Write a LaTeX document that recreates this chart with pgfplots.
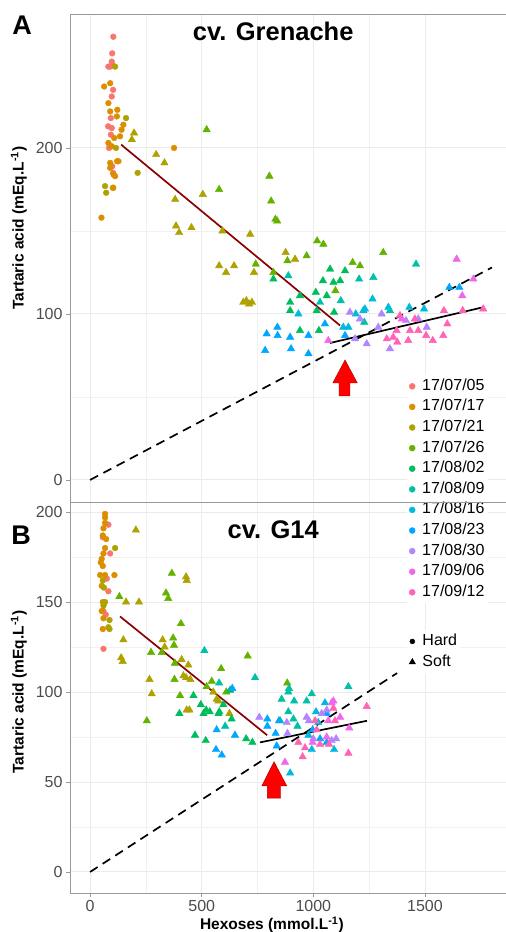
\documentclass[border=0pt]{standalone}
\usepackage{fontspec}
\setmainfont{Liberation Sans}
\usepackage{pgfplots}
\pgfplotsset{compat=1.18}
\definecolor{c1}{HTML}{F8766D}
\definecolor{c2}{HTML}{DB8E00}
\definecolor{c3}{HTML}{AEA200}
\definecolor{c4}{HTML}{64B200}
\definecolor{c5}{HTML}{00BD5C}
\definecolor{c6}{HTML}{00C1A7}
\definecolor{c7}{HTML}{00BADE}
\definecolor{c8}{HTML}{00A6FF}
\definecolor{c9}{HTML}{B385FF}
\definecolor{c10}{HTML}{EF67EB}
\definecolor{c11}{HTML}{FF63B6}
\definecolor{dred}{HTML}{8B0000}
\definecolor{gridc}{HTML}{EBEBEB}
\pgfplotsset{
 panel/.style={scale only axis, width=436pt, xmin=-90, xmax=1863,
   axis line style={draw=none},
   tick align=outside, major tick length=4pt, tick style={black!40, line width=0.8pt},
   minor tick num=1, minor tick style={draw=none},
   grid=both, major grid style={gridc, line width=0.9pt}, minor grid style={gridc!70, line width=0.5pt},
   xtick={0,500,1000,1500}, xtick pos=bottom, ytick pos=left,
   scaled ticks=false,
   /pgf/number format/1000 sep={},
   /pgf/number format/assume math mode=true,
   ticklabel style={font=\fontsize{16}{16}\selectfont, text=black!70},
   ylabel style={font=\bfseries\fontsize{15.5}{15.5}\selectfont},
   xlabel style={font=\bfseries\fontsize{15.5}{15.5}\selectfont},
   title style={font=\bfseries\fontsize{25.5}{25.5}\selectfont, anchor=center},
   legend cell align=left,
   clip=true,
 },
 hard/.style={only marks, mark=*, mark size=2.9pt, forget plot, mark options={draw=none}},
 soft/.style={only marks, mark=triangle*, mark size=4.3pt, forget plot, mark options={draw=none}},
 dred line/.style={dred, line width=1.7pt, forget plot, no marks},
 blk line/.style={black, line width=1.7pt, forget plot, no marks},
 dsh line/.style={black, line width=1.7pt, dash pattern=on 9pt off 6pt, forget plot, no marks},
 arrowsh/.style={fill=red, draw=red!65!black, line width=0.4pt, forget plot, no marks},
 mylegend/.style={draw=none, fill=white,
    font=\fontsize{16}{16}\selectfont, inner sep=2pt, row sep=2.6pt,
    nodes={text height=12pt, text depth=4pt, inner sep=1pt},
    /tikz/every odd column/.append style={column sep=6pt}},
}
\begin{document}
\begin{tikzpicture}
\path[use as bounding box] (0pt,0pt) rectangle (506pt,932pt);
% ---------------- Panel B ----------------
\begin{axis}[panel, at={(70pt,39pt)}, anchor=south west, height=391pt,
  ymin=-11.7, ymax=205.6, ytick={0,50,100,150,200},
  xlabel={Hexoses (mmol.L\textsuperscript{-1})},
  xlabel style={at={(axis description cs:0.463,0)}, anchor=center, yshift=-32pt},
  ylabel={Tartaric acid (mEq.L\textsuperscript{-1})},
  ylabel style={at={(axis description cs:-0.117,0.514)}, anchor=center},
  title={cv. G14}, title style={at={(axis description cs:0.466,0.913)}},
  legend style={mylegend, at={(axis description cs:0.773,0.672)}, anchor=north west},
]
\addlegendimage{only marks, mark=*, mark size=2.5pt, black}
\addlegendentry{Hard}
\addlegendimage{only marks, mark=triangle*, mark size=3.6pt, black}
\addlegendentry{Soft}
\addplot[hard, c1] coordinates {(82,193) (57,186) (90,177) (75,163) (82,156) (60,145) (70,143) (60,124)};
\addplot[hard, c2] coordinates {(67,199) (67,197) (67,194) (60,191) (57,187) (67,180) (60,177) (52,174) (48,172) (57,170) (45,165) (67,165) (109,165) (52,159) (57,150) (52,145) (60,141) (57,135) (72,185)};
\addplot[hard, c3] coordinates {(112,180) (57,162) (67,150) (60,148) (87,140) (82,136) (87,135) (62,158)};
\addplot[soft, c3] coordinates {(205,190) (430,164) (433,162) (161,150) (219,150) (149,129) (139,119) (146,117) (266,107) (276,99) (325,129) (334,125) (410,118) (440,115) (418,109) (449,107) (433,90) (552,100) (567,96) (430,108) (575,95) (624,88) (445,90)};
\addplot[soft, c4] coordinates {(366,166) (340,155) (350,152) (131,153) (407,138) (372,130) (376,126) (273,122) (321,122) (380,116) (587,113) (706,120) (254,84) (378,107) (403,98) (522,103) (545,106) (883,105) (610,100)};
\addplot[soft, c5] coordinates {(463,98) (496,93) (520,90) (536,89) (400,88) (508,88) (575,88) (597,93) (627,101) (470,76) (518,73) (699,74) (727,72) (634,85) (579,89)};
\addplot[soft, c6] coordinates {(512,123) (578,105) (739,108) (605,81) (1157,103) (858,96) (888,100) (914,95) (970,95) (993,99) (851,84) (888,89) (911,85) (929,81) (891,102)};
\addplot[soft, c7] coordinates {(993,68) (1093,68) (896,55) (1052,94) (1012,89) (1022,83) (978,76)};
\addplot[soft, c8] coordinates {(637,102) (567,79) (564,68) (590,65) (649,76) (794,85) (794,81) (846,84) (831,77) (836,70) (1060,88) (997,79) (1030,74) (1060,72)};
\addplot[soft, c9] coordinates {(758,86) (881,83) (970,86) (980,84) (1037,88) (1060,90) (1082,73) (1102,74) (884,77) (1000,74)};
\addplot[soft, c10] coordinates {(1082,94) (1090,95) (1067,84) (1161,80) (873,61) (1120,86) (1060,75) (997,72)};
\addplot[soft, c11] coordinates {(1239,92) (1157,66) (933,72) (952,64) (963,69) (1015,79) (1030,71) (1070,71) (1097,84) (1008,84) (1090,91)};
\addplot[dred line] coordinates {(134,142) (793,76)};
\addplot[blk line] coordinates {(761,72) (1240,84)};
\addplot[dsh line] coordinates {(0,0) (1375,110.5)};
\addplot[arrowsh] coordinates {(769,47.8) (824,61.3) (881,47.8) (854,47.8) (854,41) (794,41) (794,47.8)} -- cycle;
\end{axis}
% ---------------- Panel A ----------------
\begin{axis}[panel, at={(70pt,430pt)}, anchor=south west, height=488pt,
  ymin=-13.3, ymax=280.7, ytick={0,100,200},
  xticklabels={}, xtick style={draw=none},
  ylabel={Tartaric acid (mEq.L\textsuperscript{-1})},
  ylabel style={at={(axis description cs:-0.117,0.561)}, anchor=center},
  title={cv. Grenache}, title style={at={(axis description cs:0.466,0.953)}},
  legend style={mylegend, at={(axis description cs:0.773,0.260)}, anchor=north west},
]
\addlegendimage{only marks, mark=*, mark size=3pt, c1}\addlegendentry{17/07/05}
\addlegendimage{only marks, mark=*, mark size=3pt, c2}\addlegendentry{17/07/17}
\addlegendimage{only marks, mark=*, mark size=3pt, c3}\addlegendentry{17/07/21}
\addlegendimage{only marks, mark=*, mark size=3pt, c4}\addlegendentry{17/07/26}
\addlegendimage{only marks, mark=*, mark size=3pt, c5}\addlegendentry{17/08/02}
\addlegendimage{only marks, mark=*, mark size=3pt, c6}\addlegendentry{17/08/09}
\addlegendimage{only marks, mark=*, mark size=3pt, c7}\addlegendentry{17/08/16}
\addlegendimage{only marks, mark=*, mark size=3pt, c8}\addlegendentry{17/08/23}
\addlegendimage{only marks, mark=*, mark size=3pt, c9}\addlegendentry{17/08/30}
\addlegendimage{only marks, mark=*, mark size=3pt, c10}\addlegendentry{17/09/06}
\addlegendimage{only marks, mark=*, mark size=3pt, c11}\addlegendentry{17/09/12}
\addplot[hard, c1] coordinates {(104,267) (99,257) (97,252) (82,249) (90,249) (100,250) (103,235) (97,231) (93,218) (97,212) (81,213) (93,208) (85,200) (99,189) (103,185)};
\addplot[hard, c2] coordinates {(63,237) (90,239) (82,227) (90,222) (122,223) (120,219) (149,214) (141,211) (134,207) (108,206) (82,203) (97,201) (121,192) (127,192) (90,191) (90,188) (105,184) (112,183) (102,176) (104,176) (376,200) (51,158)};
\addplot[hard, c3] coordinates {(161,218) (116,200) (213,185) (67,177) (72,173) (112,249)};
\addplot[soft, c3] coordinates {(197,209) (187,205) (296,196) (333,191) (381,169) (505,172) (385,153) (399,149) (454,152) (593,150) (717,148) (578,129) (609,125) (645,129) (734,125) (686,107) (700,108) (712,106) (725,107) (876,137) (918,133)};
\addplot[soft, c4] coordinates {(522,211) (578,175) (803,183) (811,168) (830,157) (838,156) (742,130) (821,125) (970,135) (1017,144) (1045,142) (884,132) (1313,137) (1176,131) (1209,129) (1099,114)};
\addplot[soft, c5] coordinates {(821,121) (1075,127) (1043,120) (1090,119) (1120,120) (1142,126) (1011,113) (1060,111) (940,111) (896,107) (896,102) (1015,102) (1093,101) (940,90) (1025,90)};
\addplot[soft, c6] coordinates {(888,123) (1205,121) (1123,108) (1030,107) (1460,130) (1269,122) (1343,102) (1228,95)};
\addplot[soft, c7] coordinates {(933,100) (1134,92) (1157,92) (1224,102) (1231,103) (1265,109) (1336,104) (1496,103) (1430,104) (1190,100)};
\addplot[soft, c8] coordinates {(791,88) (839,92) (840,87) (896,86) (978,87) (784,78) (900,79) (978,76) (1052,94) (1609,116) (1654,116) (1142,87)};
\addplot[soft, c9] coordinates {(1164,101) (1209,97) (1306,100) (1470,97) (1239,82) (1343,79) (1508,92) (1291,92) (1415,96) (1187,85)};
\addplot[soft, c10] coordinates {(1642,133) (1717,121) (1667,111) (1067,84) (1396,97)};
\addplot[soft, c11] coordinates {(1388,99) (1373,90) (1433,90) (1358,86) (1425,84) (1376,83) (1505,87) (1535,84) (1582,87) (1600,94) (1585,102) (1669,102) (1761,103) (1470,90) (1455,97) (1329,85)};
\addplot[dred line] coordinates {(139,202) (1120,93)};
\addplot[blk line] coordinates {(1075,82.5) (1760,104)};
\addplot[dsh line] coordinates {(0,0) (1800,128)};
\addplot[arrowsh] coordinates {(1087,58.4) (1142,72.3) (1197,58.4) (1164,58.4) (1164,50.6) (1115,50.6) (1115,58.4)} -- cycle;
\end{axis}
% panel borders
\draw[black!40, line width=0.9pt] (506pt,918pt) -- (70pt,918pt) -- (70pt,39pt) -- (506pt,39pt);
\draw[black!40, line width=0.9pt] (70pt,430pt) -- (506pt,430pt);
\node[font=\bfseries\fontsize{27}{27}\selectfont] at (22pt,907pt) {A};
\node[font=\bfseries\fontsize{27}{27}\selectfont] at (21pt,397pt) {B};
\end{tikzpicture}
\end{document}
